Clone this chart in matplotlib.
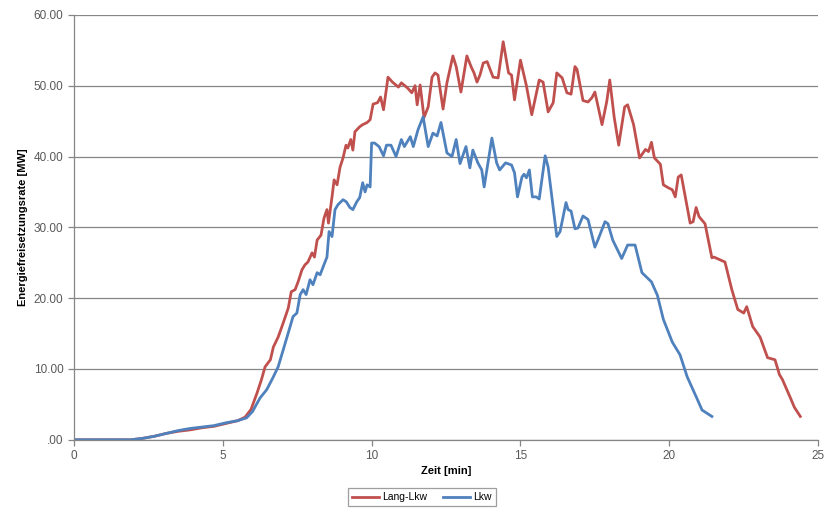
import numpy as np
import matplotlib
matplotlib.use('Agg')
from matplotlib import pyplot as plt
from matplotlib.ticker import FuncFormatter

# Lang-Lkw (red) - time [min], rate [MW]
lang_t = [0, 1.9, 2.3, 2.7, 3.1, 3.5, 3.9, 4.3, 4.7, 5.1, 5.5, 5.75, 5.95, 6.15, 6.3, 6.42,
          6.6, 6.7, 6.86, 7.03, 7.2, 7.3, 7.43, 7.53, 7.66, 7.76, 7.86, 8.0, 8.08, 8.17, 8.3,
          8.4, 8.5, 8.55, 8.67, 8.74, 8.84, 8.94, 9.04, 9.14, 9.2, 9.3, 9.37, 9.44, 9.6, 9.7,
          9.85, 9.95, 10.05, 10.2, 10.3, 10.4, 10.55, 10.7, 10.9, 11.0, 11.2, 11.35, 11.46,
          11.53, 11.63, 11.76, 11.9, 12.03, 12.13, 12.23, 12.4, 12.53, 12.73, 12.84, 13.0,
          13.2, 13.34, 13.44, 13.54, 13.64, 13.75, 13.88, 14.08, 14.25, 14.42, 14.6, 14.7,
          14.8, 15.0, 15.2, 15.38, 15.63, 15.76, 15.93, 16.1, 16.22, 16.4, 16.56, 16.7, 16.83,
          16.9, 17.1, 17.27, 17.4, 17.5, 17.74, 17.9, 18.0, 18.15, 18.3, 18.5, 18.6, 18.8,
          19.0, 19.2, 19.3, 19.4, 19.5, 19.7, 19.8, 19.96, 20.1, 20.2, 20.3, 20.4, 20.7, 20.8,
          20.9, 21.0, 21.2, 21.43, 21.5, 21.87, 22.0, 22.1, 22.3, 22.5, 22.6, 22.8, 23.05,
          23.3, 23.55, 23.7, 23.8, 24.05, 24.2, 24.4]
lang_v = [0, 0, 0.2, 0.5, 0.9, 1.2, 1.4, 1.7, 1.9, 2.3, 2.7, 3.2, 4.3, 6.6, 8.5, 10.3,
          11.3, 13.1, 14.5, 16.5, 18.6, 20.9, 21.2, 22.3, 24.0, 24.7, 25.1, 26.4, 25.8, 28.2, 28.9,
          31.3, 32.5, 30.6, 34.3, 36.7, 36.0, 38.5, 39.8, 41.6, 41.2, 42.4, 40.9, 43.5, 44.2, 44.5,
          44.8, 45.2, 47.4, 47.6, 48.4, 46.6, 51.2, 50.5, 49.8, 50.4, 49.7, 49.0, 50.0,
          47.3, 50.1, 45.5, 47.0, 51.2, 51.8, 51.5, 46.7, 50.4, 54.2, 52.7, 49.1,
          54.2, 52.7, 51.8, 50.5, 51.5, 53.2, 53.4, 51.2, 51.1, 56.2, 51.8, 51.5,
          48.0, 53.6, 50.0, 45.9, 50.8, 50.5, 46.3, 47.6, 51.8, 51.1, 49.0, 48.8, 52.7,
          52.3, 47.9, 47.7, 48.3, 49.1, 44.5, 47.8, 50.8, 45.5, 41.6, 47.0, 47.3, 44.5,
          39.8, 41.0, 40.7, 42.0, 39.8, 38.9, 36.0, 35.6, 35.3, 34.3, 37.1, 37.4, 30.6, 30.8,
          32.8, 31.5, 30.5, 25.7, 25.8, 25.1, 22.9, 21.2, 18.4, 17.9, 18.8, 16.0, 14.5,
          11.6, 11.3, 9.2, 8.5, 6.1, 4.6, 3.3]

# Lkw (blue)
lkw_t = [0, 1.9, 2.3, 2.7, 3.1, 3.5, 3.9, 4.3, 4.7, 5.1, 5.5, 5.8, 6.0, 6.25, 6.48, 6.7,
         6.86, 7.03, 7.2, 7.36, 7.49, 7.6, 7.7, 7.8, 7.93, 8.03, 8.17, 8.27, 8.37, 8.5, 8.57,
         8.67, 8.77, 8.87, 9.04, 9.15, 9.27, 9.37, 9.5, 9.6, 9.7, 9.78, 9.85, 9.95, 10.0,
         10.1, 10.25, 10.4, 10.5, 10.65, 10.82, 11.0, 11.1, 11.3, 11.4, 11.56, 11.73, 11.9,
         12.06, 12.2, 12.33, 12.53, 12.7, 12.84, 12.97, 13.17, 13.3, 13.4, 13.57, 13.7,
         13.78, 14.04, 14.2, 14.3, 14.5, 14.7, 14.8, 14.9, 15.05, 15.12, 15.2, 15.3, 15.4,
         15.53, 15.63, 15.83, 15.93, 16.22, 16.33, 16.53, 16.6, 16.7, 16.83, 16.93, 17.1,
         17.27, 17.5, 17.6, 17.84, 17.94, 18.1, 18.4, 18.6, 18.85, 19.08, 19.4, 19.6, 19.8,
         20.1, 20.36, 20.6, 20.9, 21.1, 21.43]
lkw_v = [0, 0, 0.2, 0.5, 0.9, 1.3, 1.6, 1.8, 2.0, 2.4, 2.7, 3.1, 4.0, 5.9, 7.1, 8.9,
         10.3, 12.7, 15.1, 17.4, 17.9, 20.5, 21.2, 20.5, 22.6, 21.9, 23.6, 23.3, 24.4, 25.8, 29.4,
         28.7, 32.5, 33.2, 33.9, 33.6, 32.8, 32.5, 33.6, 34.2, 36.3, 35.0, 36.0, 35.7, 41.9,
         41.9, 41.4, 40.1, 41.6, 41.6, 40.0, 42.4, 41.4, 42.8, 41.4, 43.8, 45.6, 41.4,
         43.3, 42.9, 44.8, 40.5, 40.0, 42.4, 39.0, 41.4, 38.4, 40.9, 39.1, 38.1,
         35.7, 42.6, 39.1, 38.1, 39.1, 38.8, 37.7, 34.3, 37.1, 37.5, 37.0, 38.1, 34.3,
         34.3, 34.0, 40.1, 38.5, 28.7, 29.4, 33.5, 32.5, 32.3, 29.8, 29.9, 31.6,
         31.1, 27.2, 28.2, 30.8, 30.5, 28.2, 25.6, 27.5, 27.5, 23.6, 22.3, 20.4, 17.0,
         13.8, 12.0, 8.9, 6.1, 4.2, 3.3]

x_ticks = [0, 5, 10, 15, 20, 25]
y_ticks = [0, 10, 20, 30, 40, 50, 60]

plt.rcParams['font.family'] = ['Liberation Sans', 'DejaVu Sans']

fig = plt.figure(figsize=(8.4, 5.12), dpi=100)
ax = fig.add_axes([0.088, 0.141, 0.886, 0.830])

grid_c = '#868686'
ax.plot(lang_t, lang_v, color='#C0504D', lw=2.0, label='Lang-Lkw')
ax.plot(lkw_t, lkw_v, color='#4F81BD', lw=2.0, label='Lkw')

ax.set_xlim(0, 25)
ax.set_ylim(0, 60)
ax.set_xticks(x_ticks)
ax.set_yticks(y_ticks)
ax.yaxis.set_major_formatter(FuncFormatter(lambda v, p: '.00' if v == 0 else '%.2f' % v))
ax.yaxis.grid(True, color=grid_c, lw=0.9)
ax.set_axisbelow(True)
for s in ['top', 'right']:
    ax.spines[s].set_visible(False)
for s in ['left', 'bottom']:
    ax.spines[s].set_color(grid_c)
    ax.spines[s].set_linewidth(0.9)
ax.tick_params(axis='both', colors=grid_c, labelcolor='#595959', labelsize=8.5, length=4, width=0.9)

ax.set_xlabel('Zeit [min]', fontsize=8, fontweight='bold', labelpad=3)
ax.set_ylabel('Energiefreisetzungsrate [MW]', fontsize=8, fontweight='bold', labelpad=4)

leg = fig.legend(loc='center', bbox_to_anchor=(0.502, 0.029), ncol=2, fontsize=7.5,
                 fancybox=False, handlelength=2.6, columnspacing=1.5, handletextpad=0.3,
                 borderpad=0.4)
leg.get_frame().set_edgecolor(grid_c)
leg.get_frame().set_linewidth(0.9)

fig.savefig('out.png', dpi=100)
